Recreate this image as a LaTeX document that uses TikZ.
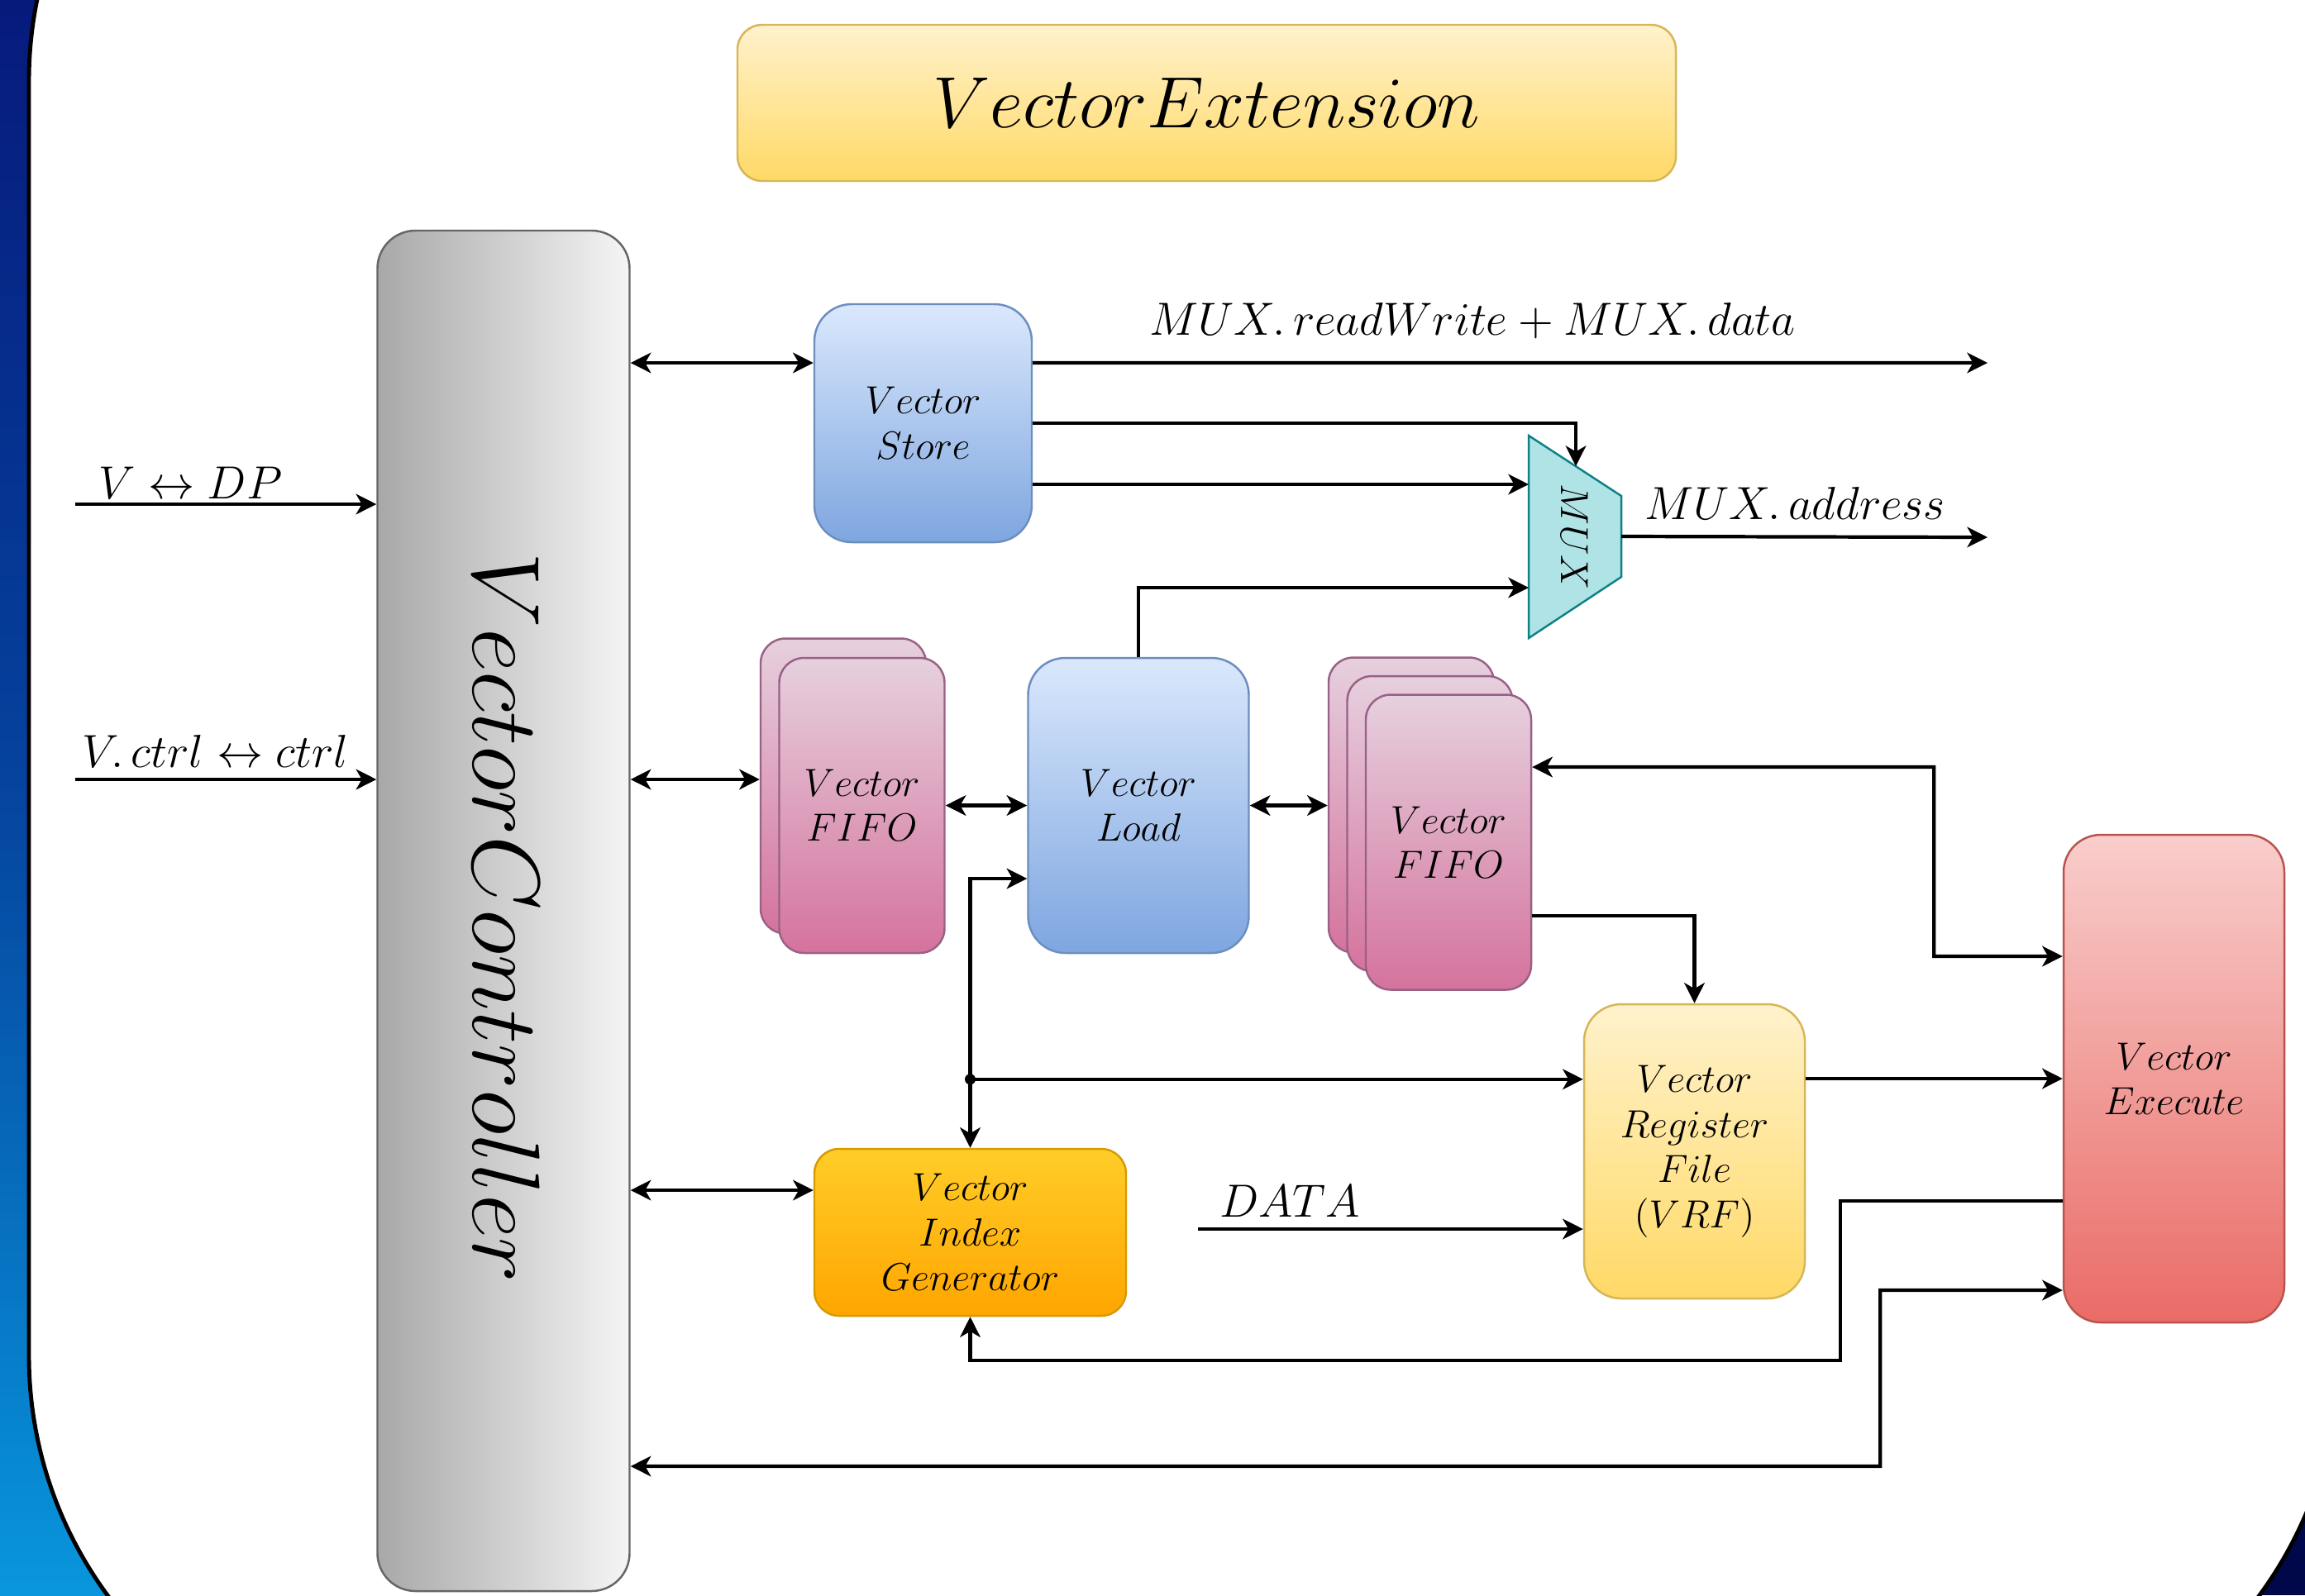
\documentclass[tikz,border=0pt]{standalone}
\usepackage{fix-cm}
\usepackage{amsmath, amssymb}
\usetikzlibrary{arrows.meta}
\usetikzlibrary{calc}

\definecolor{bgtop}{HTML}{061A7C}
\definecolor{bgmid}{HTML}{05449F}
\definecolor{bgbot}{HTML}{0896DC}
\definecolor{bgdark}{HTML}{00084A}
\definecolor{yellowtop}{HTML}{FFF2CC}
\definecolor{yellowbot}{HTML}{FFD966}
\definecolor{yellowline}{HTML}{D6B656}
\definecolor{bluetop}{HTML}{DAE8FC}
\definecolor{bluebot}{HTML}{7EA6E0}
\definecolor{blueline}{HTML}{6C8EBF}
\definecolor{pinktop}{HTML}{E6D0DE}
\definecolor{pinkbot}{HTML}{D5739D}
\definecolor{pinkline}{HTML}{996185}
\definecolor{orangetop}{HTML}{FFCD28}
\definecolor{orangebot}{HTML}{FFA500}
\definecolor{orangeline}{HTML}{D79B00}
\definecolor{redtop}{HTML}{F8CECC}
\definecolor{redbot}{HTML}{EA6B66}
\definecolor{redline}{HTML}{B85450}
\definecolor{greyleft}{HTML}{A8A8A8}
\definecolor{greyright}{HTML}{F5F5F5}
\definecolor{greyline}{HTML}{666666}
\definecolor{muxfill}{HTML}{B0E3E6}
\definecolor{muxline}{HTML}{0E8088}

\newcommand{\mdot}{.\mkern3mu}

\begin{document}
\begin{tikzpicture}[line width=1.2pt, >={Stealth[length=7pt,width=7pt,inset=2pt]},
        block_style/.style={rectangle, rounded corners=0.45cm, line width=0.7pt, inner sep=0pt, align=center, font=\fontsize{13.5}{15.5}\selectfont},
        title_style/.style={block_style, rounded corners=0.3cm, draw=yellowline, top color=yellowtop, bottom color=yellowbot},
        ctrl_style/.style={block_style, rounded corners=0.46cm, draw=greyline, left color=greyleft, right color=greyright},
        blue_style/.style={block_style, draw=blueline, top color=bluetop, bottom color=bluebot},
        fifo_style/.style={block_style, rounded corners=0.3cm, minimum width=2cm, minimum height=3.57cm, draw=pinkline, top color=pinktop, bottom color=pinkbot},
        yellow_style/.style={block_style, draw=yellowline, top color=yellowtop, bottom color=yellowbot},
        orange_style/.style={block_style, rounded corners=0.3cm, draw=orangeline, top color=orangetop, bottom color=orangebot},
        red_style/.style={block_style, draw=redline, top color=redtop, bottom color=redbot},
        mux_style/.style={draw=muxline, fill=muxfill, line width=0.7pt},
        label_style/.style={inner sep=0pt, font=\fontsize{16}{19}\selectfont},
        edge_style/.style={draw=black, ->},
        both_edge_style/.style={draw=black, <->}]

        \useasboundingbox (0,0) rectangle (27.88,-19.30);
        \begin{scope}
            \clip (0,0) rectangle (27.88,-19.30);
            \shade [top color=bgtop, bottom color=bgbot, middle color=bgmid] (0,0) rectangle (14,-19.30);
            \fill [bgdark] (14,0) rectangle (27.88,-19.30);
            \draw [line width=1.4pt, fill=white, rounded corners=4.9cm] (0.35,3.92) rectangle (28.28,-21.30);
        \end{scope}

        \node [title_style, minimum width=11.35cm, minimum height=1.89cm, font=\fontsize{25}{30}\selectfont](n1) at (14.595,-1.245) {$VectorExtension$};
        \node [ctrl_style, minimum width=3.05cm, minimum height=16.46cm](n2) at (6.09,-11.02) {};
        \node [rotate=-90, inner sep=0pt, font=\fontsize{33}{40}\selectfont](n2t) at (6.13,-11.11) {$VectorController$};
        \node [blue_style, minimum width=2.63cm, minimum height=2.88cm](n3) at (11.165,-5.12) {$Vector$\\$Store$};
        \node [fifo_style](n4a) at (10.20,-9.51) {};
        \node [fifo_style](n4) at (10.425,-9.745) {$Vector$\\$FIFO$};
        \node [blue_style, minimum width=2.67cm, minimum height=3.57cm](n5) at (13.77,-9.745) {$Vector$\\$Load$};
        \node [fifo_style](n6a) at (17.07,-9.74) {};
        \node [fifo_style](n6b) at (17.295,-9.965) {};
        \node [fifo_style](n6) at (17.52,-10.19) {$Vector$\\$FIFO$};
        \draw [mux_style] (18.49,-5.27) coordinate (mux_a) -- (19.61,-6.00) coordinate (mux_b)
            -- (19.61,-6.98) coordinate (mux_c) -- (18.49,-7.72) coordinate (mux_d) -- cycle;
        \node [rotate=-90, inner sep=0pt, font=\fontsize{13.5}{15.5}\selectfont](n7) at (19.05,-6.495) {$MUX$};
        \node [orange_style, minimum width=3.77cm, minimum height=2.02cm](n8) at (11.735,-14.91) {$Vector$\\$Index$\\$Generator$};
        \node [yellow_style, minimum width=2.67cm, minimum height=3.56cm](n9) at (20.495,-13.93) {$Vector$\\$Register$\\$File$\\$(VRF)$};
        \node [red_style, minimum width=2.67cm, minimum height=5.90cm](n10) at (26.295,-13.05) {$Vector$\\$Execute$};

        \coordinate (in1) at (0.91,-6.10);
        \coordinate (in2) at (0.91,-9.43);
        \coordinate (o1) at (24.04,-4.39);
        \coordinate (o2) at (24.04,-6.50);
        \coordinate (d0) at (14.49,-14.87);
        \coordinate (s1) at ([yshift=7.3mm]n3.east);
        \coordinate (s3) at ([yshift=-7.4mm]n3.east);
        \coordinate (g1) at ([yshift=5.1mm]n8.west);
        \coordinate (m1) at (19.06,-5.64);
        \coordinate (m3) at (18.49,-7.11);
        \coordinate (m4) at ($(mux_b)!0.5!(mux_c)$);
        \coordinate (j) at ([yshift=8.3mm]n8.north);

        \node [label_style, anchor=base west](l1) at (1.17,-6.03) {$V \leftrightarrow DP$};
        \node [label_style, anchor=base west](l2) at (0.97,-9.28) {$V\mdot ctrl \leftrightarrow ctrl$};
        \node [label_style, anchor=base](l3) at (17.81,-4.05) {$MUX\mdot readWrite + MUX\mdot data$};
        \node [label_style, anchor=base](l4) at (21.71,-6.28) {$MUX\mdot address$};
        \node [label_style, anchor=base](l5) at (15.60,-14.72) {$DATA$};

        \draw [edge_style] (in1) -- (in1 -| n2.west);
        \draw [edge_style] (in2) -- (in2 -| n2.west);
        \draw [both_edge_style] (n2.east |- s1) -- (n3.west |- s1);
        \draw [both_edge_style] (n2.east |- in2) -- (n4a.west |- in2);
        \draw [both_edge_style] (n2.east |- g1) -- (g1);
        \draw [edge_style] (s1) -- (o1);
        \draw [edge_style] (n3.east) -| (m1);
        \draw [edge_style] (s3) -- (s3 -| mux_a);
        \draw [edge_style] (n5.north) |- (m3);
        \draw [edge_style] (m4) -- (o2);
        \draw [both_edge_style] (n4.east) -- (n5.west);
        \draw [both_edge_style] (n5.east) -- (n5.east -| n6a.west);
        \fill (j) circle (0.065);
        \draw [edge_style] (j) |- ([yshift=-8.85mm]n5.west);
        \draw [edge_style] (j) -- (n8.north);
        \draw [edge_style] (j) -- (j -| n9.west);
        \draw [edge_style] (d0) -- (d0 -| n9.west);
        \draw [edge_style] ([yshift=-8.9mm]n6.east) -| (n9.north);
        \draw [both_edge_style] ([yshift=9.1mm]n6.east) -| ++(4.86,-2.29) -- ([yshift=1.48cm]n10.west);
        \draw [edge_style] (n9.east |- n10.west) -- (n10.west);
        \draw [edge_style] ([yshift=-1.48cm]n10.west) -| ++(-2.69,-1.93) -| (n8.south);
        \draw [both_edge_style] ([yshift=-6.72cm]n2.east) -| ++(15.115,2.13) -- ([yshift=-2.56cm]n10.west);
\end{tikzpicture}
\end{document}
